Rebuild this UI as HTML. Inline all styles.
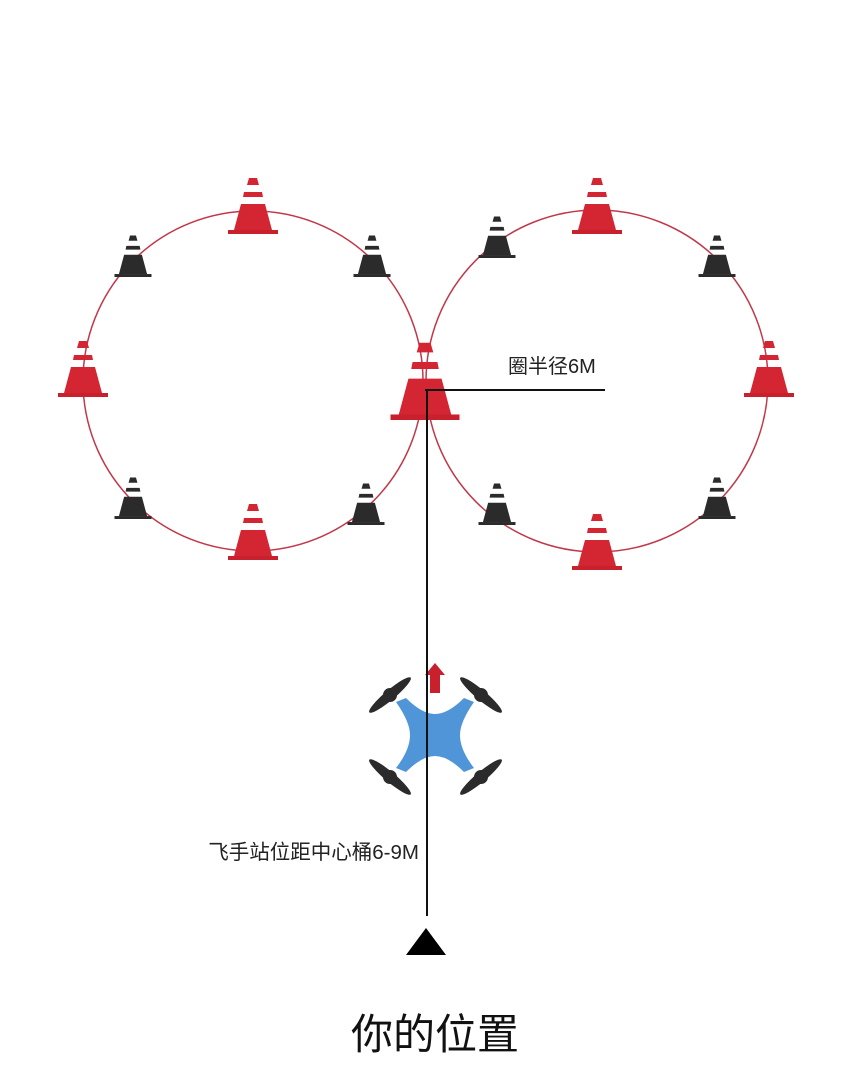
<!DOCTYPE html>
<html><head><meta charset="utf-8"><style>
html,body{margin:0;padding:0;background:#fff;width:862px;height:1068px;overflow:hidden}
text{font-family:"Liberation Sans","Noto Sans CJK SC",sans-serif}
</style></head><body>
<svg width="862" height="1068" viewBox="0 0 862 1068" xmlns="http://www.w3.org/2000/svg">
<defs>
<g id="rc">
<rect x="-25" y="-4" width="50" height="4" fill="#c8202c"/>
<polygon points="-12,-30 12,-30 19,-4 -19,-4" fill="#d42532"/>
<polygon points="-9,-42 9,-42 10,-37 -10,-37" fill="#d42532"/>
<path d="M-4,-56 H4 L6,-49 H-6 Z" fill="#d42532"/>
</g>
<g id="bc">
<rect x="-25" y="-4" width="50" height="4" fill="#2b2b2b"/>
<polygon points="-12,-30 12,-30 19,-4 -19,-4" fill="#2b2b2b"/>
<polygon points="-9,-42 9,-42 10,-37 -10,-37" fill="#2b2b2b"/>
<path d="M-4,-56 H4 L6,-49 H-6 Z" fill="#2b2b2b"/>
</g>
<g id="prop">
<ellipse cx="0" cy="0" rx="27" ry="5" fill="#2b2b2b"/>
<circle cx="0" cy="0" r="7" fill="#2b2b2b"/>
</g>
</defs>
<circle cx="253" cy="381" r="170" fill="none" stroke="#c0394a" stroke-width="1.5"/>
<circle cx="597" cy="381" r="171" fill="none" stroke="#c0394a" stroke-width="1.5"/>
<use href="#rc" transform="translate(253,234)"/>
<use href="#rc" transform="translate(597,234)"/>
<use href="#rc" transform="translate(83,397)"/>
<use href="#rc" transform="translate(769,397)"/>
<use href="#rc" transform="translate(253,560)"/>
<use href="#rc" transform="translate(597,570)"/>
<use href="#rc" transform="translate(425,420) scale(1.38)"/>
<use href="#bc" transform="translate(133,277) scale(0.74)"/>
<use href="#bc" transform="translate(372,277) scale(0.74)"/>
<use href="#bc" transform="translate(497,258) scale(0.74)"/>
<use href="#bc" transform="translate(717,277) scale(0.74)"/>
<use href="#bc" transform="translate(133,519) scale(0.74)"/>
<use href="#bc" transform="translate(366,525) scale(0.74)"/>
<use href="#bc" transform="translate(497,525) scale(0.74)"/>
<use href="#bc" transform="translate(717,519) scale(0.74)"/>
<line x1="425" y1="390" x2="605" y2="390" stroke="#111" stroke-width="2"/>
<line x1="427" y1="390" x2="427" y2="916" stroke="#111" stroke-width="2"/>
<text x="508" y="373" font-size="20" fill="#222">圈半径6M</text>
<!-- drone -->
<path d="M396,702 L406,698 Q422,714 435,714 Q448,714 464,698 L474,702 Q460,722 460,735 Q460,750 474,768 L464,772 Q448,756 435,756 Q422,756 406,772 L396,768 Q410,750 410,735 Q410,722 396,702 Z" fill="#4f95d8"/>
<use href="#prop" transform="translate(390,695) rotate(-40)"/>
<use href="#prop" transform="translate(481,695) rotate(40)"/>
<use href="#prop" transform="translate(390,777) rotate(40)"/>
<use href="#prop" transform="translate(481,777) rotate(-40)"/>
<polygon points="435,663 445,675 440,675 440,693 430,693 430,675 425,675" fill="#c8202c"/>
<line x1="427" y1="660" x2="427" y2="800" stroke="#111" stroke-width="2"/>
<text x="419" y="859" font-size="20.5" fill="#222" text-anchor="end">飞手站位距中心桶6-9M</text>
<polygon points="426,928 446,955 406,955" fill="#000"/>
<text x="435" y="1049" font-size="42" fill="#111" text-anchor="middle">你的位置</text>
</svg>
</body></html>
